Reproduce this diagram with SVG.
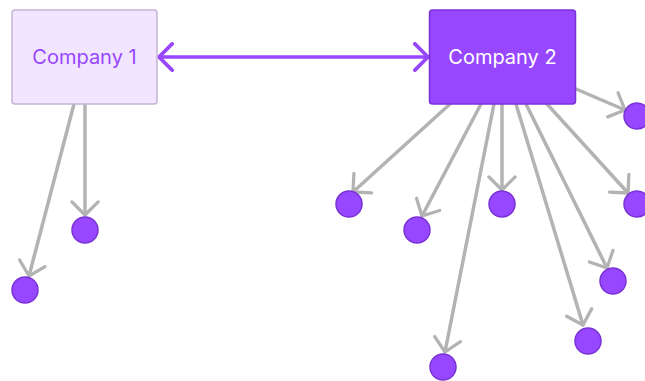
<svg xmlns="http://www.w3.org/2000/svg" width="645" height="381" viewBox="0 0 645 381">
<style>
.edge{stroke:#b3b3b3;stroke-width:3.5;fill:none;stroke-linecap:round}
.main{stroke:#9747ff;stroke-width:3.5;fill:none;stroke-linecap:round}
.dot{fill:#9747ff;stroke:#7a33d6;stroke-width:1.5}
.lbl{font-family:Inter,"Noto Sans",sans-serif;font-size:20px;text-anchor:middle;dominant-baseline:central}
</style>
<defs>
<marker id="ag" markerUnits="userSpaceOnUse" markerWidth="30" markerHeight="30" viewBox="-20 -16 24 32" refX="0" refY="0" orient="auto">
<path d="M-14,-14 L0,0 L-14,14" fill="none" stroke="#b3b3b3" stroke-width="3.5" stroke-linecap="round" stroke-linejoin="round"/>
</marker>
<marker id="ap" markerUnits="userSpaceOnUse" markerWidth="30" markerHeight="30" viewBox="-20 -16 24 32" refX="0" refY="0" orient="auto-start-reverse">
<path d="M-14,-14 L0,0 L-14,14" fill="none" stroke="#9747ff" stroke-width="4" stroke-linecap="round" stroke-linejoin="round"/>
</marker>
</defs>
<g id="connectors">
<line class="main" x1="159" y1="57" x2="428" y2="57" marker-start="url(#ap)" marker-end="url(#ap)"/>
<line class="edge" x1="74" y1="104" x2="29" y2="276" marker-end="url(#ag)"/>
<line class="edge" x1="85" y1="104" x2="85" y2="215" marker-end="url(#ag)"/>
<line class="edge" x1="450" y1="104" x2="353" y2="192" marker-end="url(#ag)"/>
<line class="edge" x1="481" y1="104" x2="422" y2="216" marker-end="url(#ag)"/>
<line class="edge" x1="494" y1="104" x2="445" y2="352" marker-end="url(#ag)"/>
<line class="edge" x1="502" y1="104" x2="502" y2="190" marker-end="url(#ag)"/>
<line class="edge" x1="516" y1="104" x2="583" y2="325" marker-end="url(#ag)"/>
<line class="edge" x1="526" y1="104" x2="607" y2="268" marker-end="url(#ag)"/>
<line class="edge" x1="547" y1="104" x2="628" y2="193" marker-end="url(#ag)"/>
<line class="edge" x1="576" y1="89" x2="625" y2="110" marker-end="url(#ag)"/>
</g>
<g id="company1">
<rect x="12" y="10" width="145" height="94" rx="3" fill="#f2e5ff" stroke="#c5b4d6" stroke-width="1.5"/>
<text class="lbl" x="84.5" y="57" fill="#9747ff">Company 1</text>
</g>
<g id="company2">
<rect x="429.5" y="10" width="146" height="94" rx="3" fill="#9747ff" stroke="#7a33d6" stroke-width="1.5"/>
<text class="lbl" x="502.5" y="57" fill="#ffffff">Company 2</text>
</g>
<g id="n1"><circle class="dot" cx="25" cy="290" r="13"/></g>
<g id="n2"><circle class="dot" cx="85" cy="230" r="13"/></g>
<g id="n3"><circle class="dot" cx="349" cy="204" r="13"/></g>
<g id="n4"><circle class="dot" cx="417" cy="230" r="13"/></g>
<g id="n5"><circle class="dot" cx="443" cy="367" r="13"/></g>
<g id="n6"><circle class="dot" cx="502" cy="204" r="13"/></g>
<g id="n7"><circle class="dot" cx="588" cy="341" r="13"/></g>
<g id="n8"><circle class="dot" cx="613" cy="281" r="13"/></g>
<g id="n9"><circle class="dot" cx="637" cy="204" r="13"/></g>
<g id="n10"><circle class="dot" cx="637" cy="116" r="13"/></g>
</svg>
